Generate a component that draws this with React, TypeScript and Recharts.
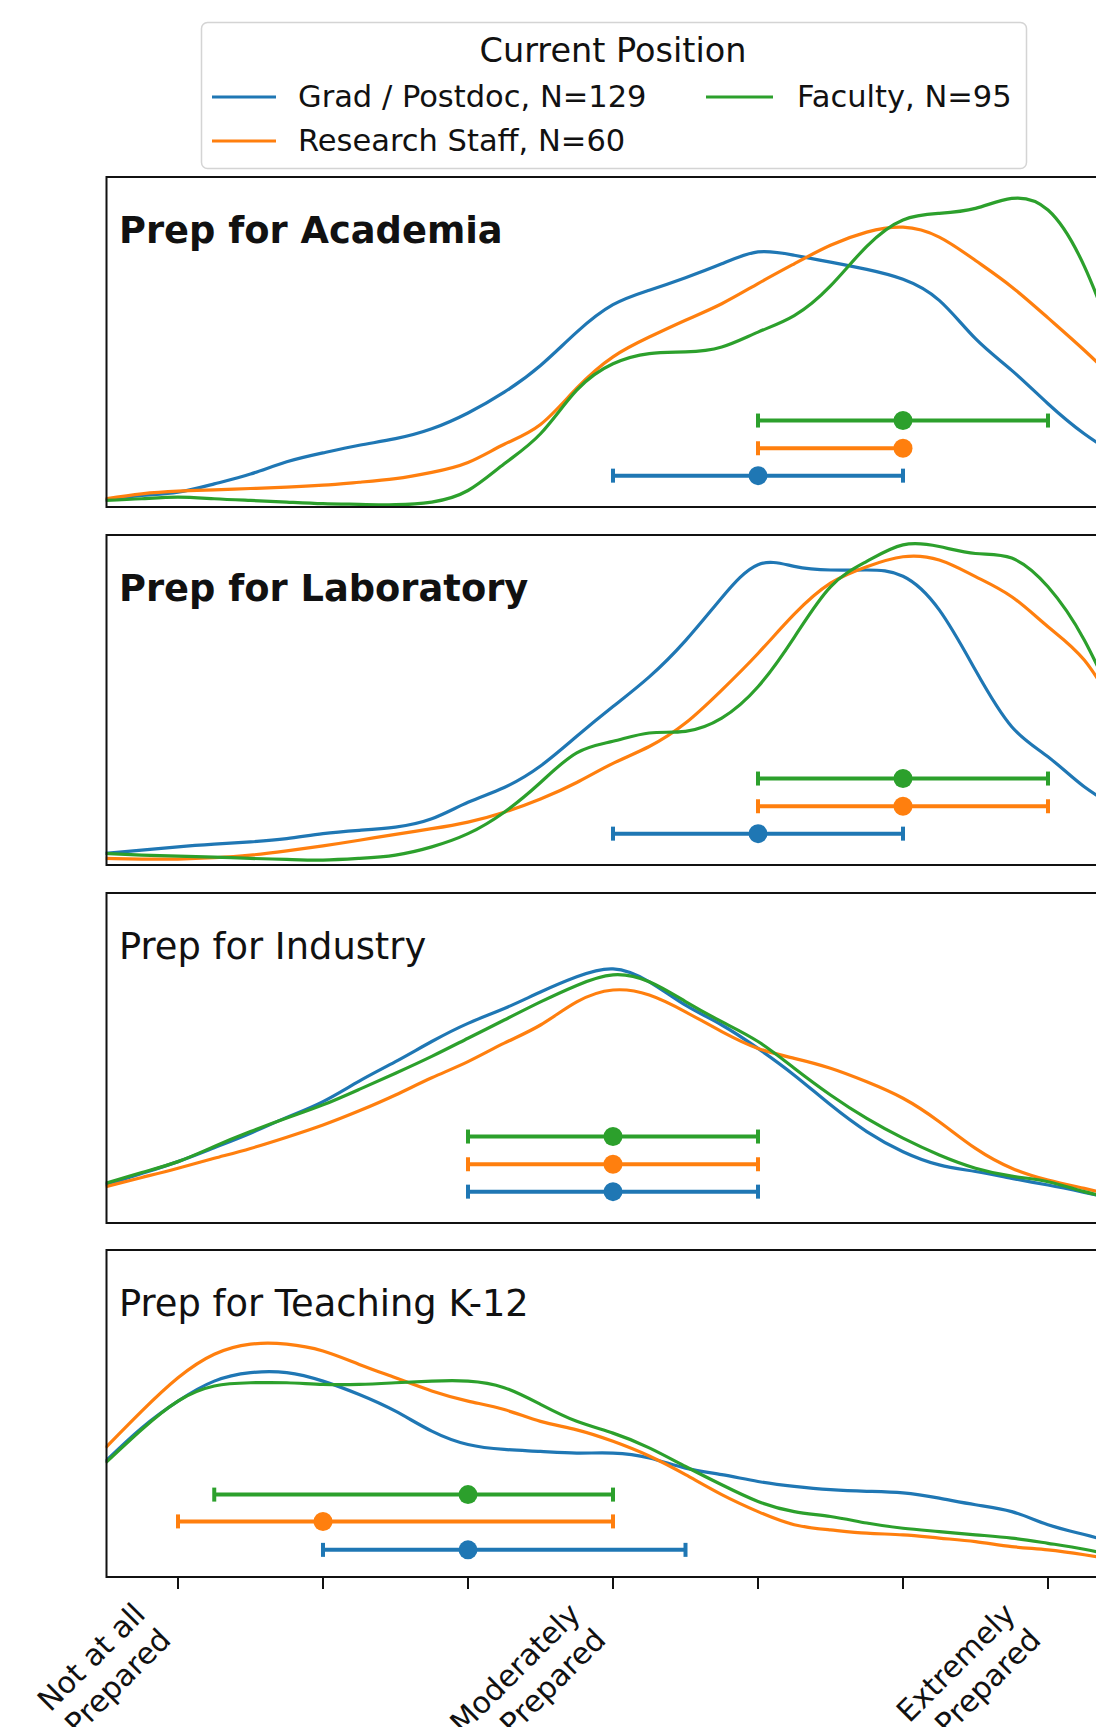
import React from "react";
import { ComposedChart, Line, Scatter, ErrorBar, XAxis, YAxis } from "recharts";

// rating grid the density curves are sampled on
const grid = [0.5, 0.75, 1, 1.25, 1.5, 1.75, 2, 2.25, 2.5, 2.75, 3, 3.25, 3.5, 3.75, 4, 4.25, 4.5, 4.75, 5, 5.25, 5.5, 5.75, 6, 6.25, 6.5, 6.75, 7, 7.25, 7.5];

const groups = ["Grad / Postdoc, N=129", "Research Staff, N=60", "Faculty, N=95"];
const colors = ["#1f77b4", "#ff7f0e", "#2ca02c"];

const academiaGrad = [0.022, 0.035, 0.045, 0.07, 0.1, 0.137, 0.164, 0.187, 0.207, 0.237, 0.285, 0.348, 0.429, 0.53, 0.613, 0.657, 0.695, 0.737, 0.773, 0.763, 0.742, 0.72, 0.69, 0.626, 0.51, 0.414, 0.313, 0.222, 0.15];
const academiaStaff = [0.025, 0.04, 0.048, 0.052, 0.056, 0.06, 0.066, 0.075, 0.086, 0.105, 0.135, 0.19, 0.25, 0.36, 0.455, 0.515, 0.566, 0.616, 0.677, 0.737, 0.793, 0.833, 0.848, 0.818, 0.747, 0.667, 0.573, 0.475, 0.37];
const academiaFaculty = [0.02, 0.025, 0.03, 0.025, 0.02, 0.015, 0.01, 0.008, 0.007, 0.015, 0.05, 0.131, 0.222, 0.354, 0.434, 0.465, 0.47, 0.485, 0.53, 0.58, 0.67, 0.79, 0.87, 0.89, 0.905, 0.935, 0.9, 0.73, 0.45];

const labGrad = [0.035, 0.045, 0.055, 0.063, 0.07, 0.08, 0.095, 0.105, 0.115, 0.14, 0.19, 0.235, 0.3, 0.39, 0.48, 0.57, 0.68, 0.81, 0.91, 0.905, 0.894, 0.894, 0.875, 0.773, 0.59, 0.419, 0.328, 0.237, 0.17];
const labStaff = [0.02, 0.018, 0.018, 0.022, 0.03, 0.043, 0.058, 0.075, 0.093, 0.11, 0.13, 0.16, 0.2, 0.25, 0.308, 0.359, 0.43, 0.53, 0.641, 0.76, 0.854, 0.904, 0.934, 0.924, 0.874, 0.813, 0.722, 0.621, 0.45];
const labFaculty = [0.035, 0.03, 0.027, 0.024, 0.02, 0.017, 0.015, 0.02, 0.03, 0.055, 0.095, 0.16, 0.25, 0.34, 0.375, 0.4, 0.405, 0.445, 0.54, 0.69, 0.843, 0.92, 0.97, 0.965, 0.944, 0.93, 0.843, 0.682, 0.45];

const industryGrad = [0.115, 0.15, 0.186, 0.228, 0.272, 0.32, 0.368, 0.43, 0.489, 0.55, 0.605, 0.65, 0.7, 0.746, 0.77, 0.731, 0.66, 0.6, 0.529, 0.448, 0.358, 0.277, 0.216, 0.176, 0.156, 0.135, 0.115, 0.093, 0.07];
const industryStaff = [0.11, 0.138, 0.166, 0.196, 0.226, 0.26, 0.297, 0.34, 0.388, 0.44, 0.489, 0.545, 0.6, 0.67, 0.706, 0.691, 0.64, 0.58, 0.529, 0.499, 0.469, 0.428, 0.378, 0.307, 0.226, 0.166, 0.13, 0.105, 0.08];
const industryFaculty = [0.12, 0.153, 0.186, 0.232, 0.277, 0.318, 0.358, 0.405, 0.454, 0.505, 0.56, 0.615, 0.67, 0.72, 0.752, 0.731, 0.671, 0.61, 0.55, 0.469, 0.388, 0.317, 0.257, 0.206, 0.166, 0.142, 0.125, 0.095, 0.07];

const teachingGrad = [0.354, 0.456, 0.538, 0.599, 0.625, 0.625, 0.599, 0.558, 0.507, 0.446, 0.405, 0.39, 0.384, 0.379, 0.379, 0.364, 0.333, 0.313, 0.292, 0.277, 0.267, 0.262, 0.257, 0.241, 0.221, 0.2, 0.16, 0.13, 0.1];
const teachingStaff = [0.395, 0.507, 0.609, 0.681, 0.712, 0.712, 0.691, 0.65, 0.609, 0.569, 0.538, 0.512, 0.476, 0.45, 0.415, 0.37, 0.313, 0.252, 0.2, 0.16, 0.144, 0.134, 0.129, 0.119, 0.108, 0.093, 0.083, 0.068, 0.05];
const teachingFaculty = [0.349, 0.451, 0.538, 0.584, 0.594, 0.594, 0.589, 0.589, 0.594, 0.599, 0.599, 0.579, 0.528, 0.476, 0.44, 0.395, 0.338, 0.282, 0.231, 0.2, 0.185, 0.165, 0.149, 0.139, 0.129, 0.119, 0.103, 0.085, 0.06];

// median and interquartile range per group (grad, staff, faculty)
const academiaMid = [5, 6, 6];
const academiaLow = [4, 5, 5];
const academiaHigh = [6, 6, 7];
const labMid = [5, 6, 6];
const labLow = [4, 5, 5];
const labHigh = [6, 7, 7];
const industryMid = [4, 4, 4];
const industryLow = [3, 3, 3];
const industryHigh = [5, 5, 5];
const teachingMid = [3, 2, 3];
const teachingLow = [2, 1, 1.25];
const teachingHigh = [4.5, 4, 4];

// height (in panel units) where each group's range marker sits
const markerRows = [0.095, 0.178, 0.262];
const markerRowsLast = [0.083, 0.17, 0.252];

const ticks = [1, 2, 3, 4, 5, 6, 7];
const tickLabels = ["Not at all\nPrepared", "", "", "Moderately\nPrepared", "", "", "Extremely\nPrepared"];

const panels = [
  { title: "Prep for Academia", bold: true, curves: [academiaGrad, academiaStaff, academiaFaculty], mid: academiaMid, low: academiaLow, high: academiaHigh, rows: markerRows },
  { title: "Prep for Laboratory", bold: true, curves: [labGrad, labStaff, labFaculty], mid: labMid, low: labLow, high: labHigh, rows: markerRows },
  { title: "Prep for Industry", bold: false, curves: [industryGrad, industryStaff, industryFaculty], mid: industryMid, low: industryLow, high: industryHigh, rows: markerRows },
  { title: "Prep for Teaching K-12", bold: false, curves: [teachingGrad, teachingStaff, teachingFaculty], mid: teachingMid, low: teachingLow, high: teachingHigh, rows: markerRowsLast },
];

const FONT = "DejaVu Sans";
const PLOT_LEFT = 105.5;
const PLOT_W = 1015;
const PANEL_TOP = [177, 535, 893, 1250];
const PANEL_H = [330, 330, 330, 327];
const AXIS_H = 150;
const keys = ["grad", "staff", "fac"];

function RotatedTick(props: any) {
  const { x, y, payload } = props;
  const label = tickLabels[ticks.indexOf(payload.value)];
  if (!label) return null;
  const ax = x - 31;
  const ay = y + 27;
  return (
    <text x={ax} y={ay} transform={`rotate(-45 ${ax} ${ay})`} textAnchor="end" fontSize={30} fontFamily={FONT} fill="#111">
      {label.split("\n").map((line, i) => (
        <tspan key={i} x={ax} dy={i === 0 ? 0 : 36}>
          {line}
        </tspan>
      ))}
    </text>
  );
}

function Panel({ index }: { index: number }) {
  const p = panels[index];
  const last = index === panels.length - 1;
  const rows = grid.map((x, i) => ({ x, grad: p.curves[0][i], staff: p.curves[1][i], fac: p.curves[2][i] }));
  return (
    <div style={{ position: "absolute", left: 0, top: PANEL_TOP[index] }}>
      <ComposedChart
        width={PLOT_LEFT + PLOT_W}
        height={PANEL_H[index] + (last ? AXIS_H : 0)}
        data={rows}
        margin={{ top: 0, right: 0, bottom: 0, left: PLOT_LEFT }}
      >
        <XAxis
          dataKey="x"
          type="number"
          domain={[0.5, 7.5]}
          allowDataOverflow
          ticks={ticks}
          interval={0}
          hide={!last}
          height={AXIS_H}
          axisLine={false}
          tickLine={{ stroke: "#111", strokeWidth: 2 }}
          tickSize={12}
          tickMargin={0}
          tick={<RotatedTick />}
        />
        <YAxis dataKey="y" type="number" domain={[0, 1]} allowDataOverflow hide />
        {keys.map((k, g) => (
          <Line
            key={k}
            dataKey={k}
            type="natural"
            stroke={colors[g]}
            strokeWidth={3.2}
            dot={false}
            activeDot={false}
            isAnimationActive={false}
          />
        ))}
        {keys.map((k, g) => (
          <Scatter
            key={"m" + k}
            data={[{ x: p.mid[g], y: p.rows[g], err: [p.mid[g] - p.low[g], p.high[g] - p.mid[g]] }]}
            fill={colors[g]}
            isAnimationActive={false}
            shape={(s: any) => <circle cx={s.cx} cy={s.cy} r={9.5} fill={colors[g]} />}
          >
            <ErrorBar dataKey="err" direction="x" width={7} stroke={colors[g]} strokeWidth={4} isAnimationActive={false} />
          </Scatter>
        ))}
      </ComposedChart>
    </div>
  );
}

export default function App() {
  return (
    <div style={{ position: "absolute", left: 0, top: 0, width: 1096, height: 1731, overflow: "hidden", background: "#fff" }}>
      {panels.map((_, i) => (
        <Panel key={i} index={i} />
      ))}
      <svg width={1096} height={1731} style={{ position: "absolute", left: 0, top: 0, pointerEvents: "none" }}>
        {panels.map((p, i) => (
          <g key={i}>
            <rect x={106.5} y={PANEL_TOP[i]} width={1100} height={PANEL_H[i]} fill="none" stroke="#111" strokeWidth={2} />
            <text x={119} y={PANEL_TOP[i] + 66} fontSize={36.8} fontFamily={FONT} fontWeight={p.bold ? "bold" : "normal"} fill="#111">
              {p.title}
            </text>
          </g>
        ))}
        <rect x={201.5} y={22.5} width={825} height={146} rx={6} fill="#fff" fillOpacity={0.8} stroke="#d4d4d4" strokeWidth={1.5} />
        <text x={613} y={62} textAnchor="middle" fontSize={33.5} fontFamily={FONT} fill="#111">
          Current Position
        </text>
        <line x1={212} x2={276} y1={97} y2={97} stroke={colors[0]} strokeWidth={3.2} />
        <text x={298} y={107} fontSize={30.5} fontFamily={FONT} fill="#111">{groups[0]}</text>
        <line x1={212} x2={276} y1={141} y2={141} stroke={colors[1]} strokeWidth={3.2} />
        <text x={298} y={151} fontSize={30.5} fontFamily={FONT} fill="#111">{groups[1]}</text>
        <line x1={706} x2={773} y1={97} y2={97} stroke={colors[2]} strokeWidth={3.2} />
        <text x={797} y={107} fontSize={30.5} fontFamily={FONT} fill="#111">{groups[2]}</text>
      </svg>
    </div>
  );
}
